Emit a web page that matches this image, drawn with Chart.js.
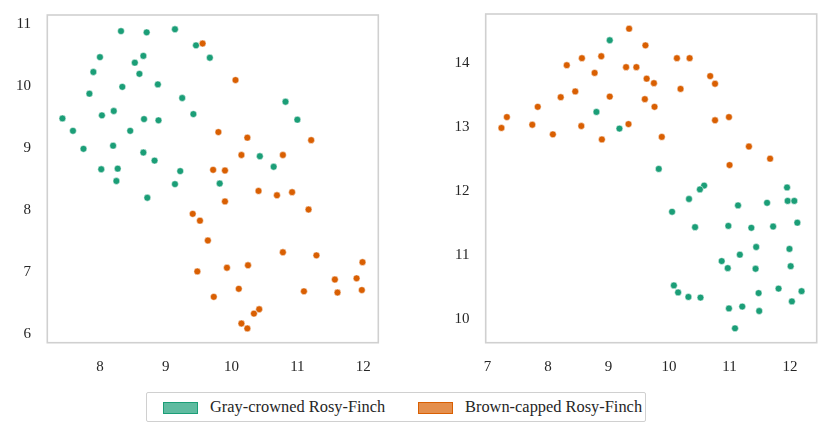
<!DOCTYPE html>
<html>
<head>
<meta charset="utf-8">
<script src="https://cdn.jsdelivr.net/npm/chart.js@4"></script>
<style>
  body { margin: 0; background: #fff; width: 831px; height: 437px; position: relative; overflow: hidden; }
  .panel { position: absolute; top: 0; height: 380px; }
  #legend {
    position: absolute; left: 146px; top: 392px; width: 500px; height: 30px;
    border: 1px solid #d0d0d0; border-radius: 2px; box-sizing: border-box;
    font-family: "Liberation Serif", "DejaVu Serif", serif; font-size: 16.4px; color: #262626;
  }
  .patch { position: absolute; top: 9px; width: 33px; height: 10px; border: 1px solid; }
  .label { position: absolute; top: 4px; line-height: 20px; white-space: nowrap; }
</style>
</head>
<body>
<div class="panel" style="left:0;width:415px"><canvas id="left"></canvas></div>
<div class="panel" style="left:415px;width:416px"><canvas id="right"></canvas></div>
<div id="legend">
  <div class="patch" style="left:16px;background:rgba(27,158,119,0.7);border-color:#1b9e77"></div>
  <div class="label" style="left:63px">Gray-crowned Rosy-Finch</div>
  <div class="patch" style="left:271px;background:rgba(217,95,2,0.7);border-color:#d95f02"></div>
  <div class="label" style="left:318px">Brown-capped Rosy-Finch</div>
</div>
<script>
// species
const species = ['Gray-crowned Rosy-Finch', 'Brown-capped Rosy-Finch'];

// left panel points [x, y]
const leftGray = [
  [8.32, 10.89], [8.71, 10.87], [9.14, 10.92], [9.46, 10.66], [9.67, 10.46],
  [8.00, 10.47], [8.66, 10.49], [8.53, 10.38], [7.90, 10.23], [8.60, 10.20],
  [8.34, 9.99], [8.88, 10.03], [7.84, 9.88], [9.25, 9.81], [7.43, 9.48],
  [8.03, 9.53], [8.21, 9.60], [8.67, 9.47], [8.89, 9.45], [9.42, 9.55],
  [7.59, 9.28], [8.46, 9.28], [7.75, 8.99], [8.20, 9.04], [8.66, 8.93],
  [8.83, 8.80], [8.02, 8.66], [8.27, 8.67], [9.22, 8.63], [8.25, 8.47],
  [9.14, 8.42], [9.82, 8.43], [10.82, 9.75], [11.00, 9.46], [10.43, 8.87],
  [10.64, 8.70], [8.72, 8.20]
];
const leftBrown = [
  [9.56, 10.69], [10.06, 10.10], [9.80, 9.26], [10.24, 9.17], [11.21, 9.13],
  [10.15, 8.89], [10.78, 8.89], [9.72, 8.65], [9.90, 8.64], [10.41, 8.31],
  [10.92, 8.29], [10.69, 8.24], [9.90, 8.14], [11.17, 8.01], [9.41, 7.94],
  [9.52, 7.83], [9.64, 7.51], [10.78, 7.32], [11.29, 7.27], [11.99, 7.16],
  [9.93, 7.07], [10.25, 7.11], [9.48, 7.01], [11.57, 6.88], [11.90, 6.90],
  [10.11, 6.73], [11.10, 6.69], [11.61, 6.67], [11.98, 6.71], [9.73, 6.60],
  [10.42, 6.40], [10.34, 6.33], [10.15, 6.17], [10.24, 6.09]
];

// right panel points [x, y]
const rightGray = [
  [9.02, 14.35], [8.80, 13.23], [9.18, 12.97], [9.83, 12.34], [10.58, 12.08],
  [10.51, 12.02], [10.33, 11.87], [10.05, 11.67], [11.95, 12.05], [11.96, 11.84],
  [12.07, 11.84], [11.14, 11.77], [11.62, 11.81], [10.43, 11.43], [10.98, 11.45],
  [11.36, 11.42], [11.72, 11.44], [12.12, 11.50], [11.44, 11.12], [11.99, 11.09],
  [11.17, 11.00], [10.87, 10.90], [10.97, 10.79], [11.43, 10.78], [12.01, 10.82],
  [10.08, 10.52], [10.15, 10.41], [10.32, 10.34], [10.52, 10.33], [11.48, 10.40],
  [11.81, 10.47], [12.19, 10.43], [12.03, 10.27], [10.99, 10.16], [11.21, 10.19],
  [11.49, 10.12], [11.09, 9.85]
];
const rightBrown = [
  [7.23, 12.98], [7.32, 13.15], [7.74, 13.03], [7.83, 13.31], [8.08, 12.88],
  [8.21, 13.46], [8.31, 13.96], [8.45, 13.55], [8.56, 14.07], [8.55, 13.01],
  [8.77, 13.84], [8.88, 14.10], [8.89, 12.80], [9.02, 13.47], [9.29, 13.93],
  [9.33, 13.04], [9.34, 14.53], [9.46, 13.93], [9.61, 14.27], [10.13, 14.07],
  [10.34, 14.07], [9.63, 13.75], [9.75, 13.68], [10.19, 13.59], [10.68, 13.79],
  [10.76, 13.67], [9.60, 13.43], [9.76, 13.31], [10.76, 13.10], [10.99, 13.15],
  [9.88, 12.84], [11.32, 12.69], [11.67, 12.50], [11.00, 12.40]
];

// tick labels
const leftXTicks = [8, 9, 10, 11, 12];
const leftYTicks = [6, 7, 8, 9, 10, 11];
const rightXTicks = [7, 8, 9, 10, 11, 12];
const rightYTicks = [10, 11, 12, 13, 14];

const GREEN = '#1b9e77';
const ORANGE = '#d95f02';
const FONT = { family: '"Liberation Serif", "DejaVu Serif", serif', size: 15 };

// light gray box round the plot area
const framePlugin = {
  id: 'frame',
  afterDraw(chart) {
    const a = chart.chartArea;
    const ctx = chart.ctx;
    ctx.save();
    ctx.strokeStyle = '#d0d0d0';
    ctx.lineWidth = 1.6;
    ctx.strokeRect(a.left, a.top, a.right - a.left, a.bottom - a.top);
    ctx.restore();
  }
};

function toPoints(arr) {
  return arr.map(p => ({ x: p[0], y: p[1] }));
}

function makeScatter(id, gray, brown, xr, yr, xTicks, yTicks, yWidth, pad) {
  const ds = (label, data, color, order) => ({
    label, data: toPoints(data), order,
    backgroundColor: color, borderColor: '#ffffff', borderWidth: 0.5,
    pointRadius: 3.4, pointHoverRadius: 3.4
  });
  return new Chart(document.getElementById(id), {
    type: 'scatter',
    data: {
      datasets: [
        ds(species[0], gray, GREEN, 1),
        ds(species[1], brown, ORANGE, 0)
      ]
    },
    options: {
      responsive: true,
      maintainAspectRatio: false,
      animation: false,
      layout: { padding: pad },
      plugins: { legend: { display: false }, tooltip: { enabled: false } },
      scales: {
        x: {
          type: 'linear', min: xr[0], max: xr[1],
          grid: { display: false, drawTicks: false }, border: { display: false },
          afterBuildTicks: s => { s.ticks = xTicks.map(v => ({ value: v })); },
          afterFit: s => { s.height = 37.3; s.paddingLeft = 0; s.paddingRight = 0; },
          ticks: { font: FONT, color: '#262626', padding: 15.5, maxRotation: 0, autoSkip: false }
        },
        y: {
          type: 'linear', min: yr[0], max: yr[1],
          grid: { display: false, drawTicks: false }, border: { display: false },
          afterBuildTicks: s => { s.ticks = yTicks.map(v => ({ value: v })); },
          afterFit: s => { s.width = yWidth; s.paddingTop = 0; s.paddingBottom = 0; },
          ticks: { font: FONT, color: '#262626', padding: 16.3, autoSkip: false }
        }
      }
    },
    plugins: [framePlugin]
  });
}

makeScatter('left', leftGray, leftBrown, [7.20, 12.23], [5.86, 11.15],
  leftXTicks, leftYTicks, 47.3, { top: 15, right: 36.7, left: 0, bottom: 0 });
makeScatter('right', rightGray, rightBrown, [6.97, 12.44], [9.625, 14.76],
  rightXTicks, rightYTicks, 70.7, { top: 14, right: 14.3, left: 0, bottom: 0 });
</script>
</body>
</html>
